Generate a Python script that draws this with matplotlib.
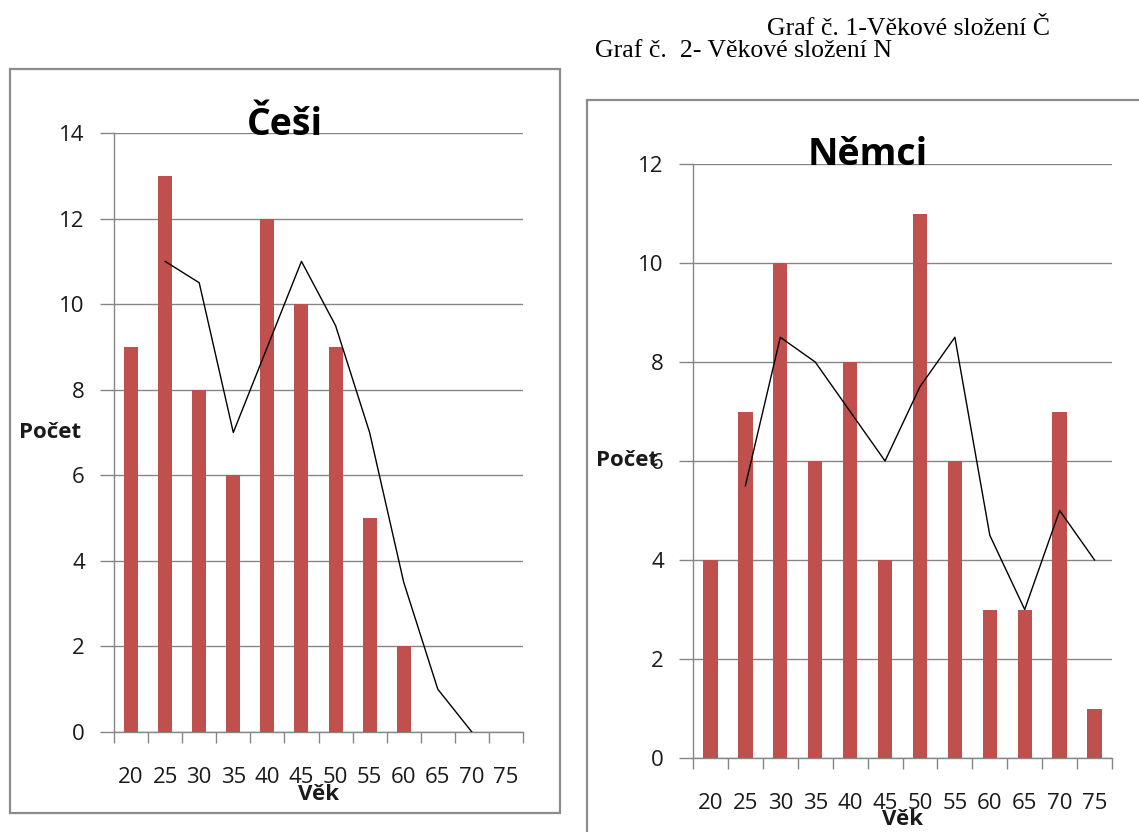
import numpy as np
import matplotlib
matplotlib.use('Agg')
import matplotlib.pyplot as plt
import matplotlib.patches as patches

plt.rcParams['font.family'] = ['Open Sans', 'DejaVu Sans']

W, H = 1139, 832

ages = ['20', '25', '30', '35', '40', '45', '50', '55', '60', '65', '70', '75']

# Češi
cz_counts = [9, 13, 8, 6, 12, 10, 9, 5, 2, 0, 0, 0]
cz_trend = [11, 10.5, 7, 9, 11, 9.5, 7, 3.5, 1, 0]   # from 25 to 70

# Němci
de_counts = [4, 7, 10, 6, 8, 4, 11, 6, 3, 3, 7, 1]
de_trend = [5.5, 8.5, 8, 7, 6, 7.5, 8.5, 4.5, 3, 5, 4]  # from 25 to 75

bar_color = '#C0504D'
grid_color = '#868686'
frame_color = '#8c8c8c'
text_color = '#1a1a1a'


def fx(x):
    return x / W


def fy(y):
    return 1 - y / H


def draw_chart(ax, counts, trend, ymax, title, title_xy):
    fig = ax.figure
    x = np.arange(len(ages))
    ax.bar(x, counts, width=0.41, color=bar_color, zorder=3)
    ax.plot(x[1:1 + len(trend)], trend, color='black', lw=1, zorder=4)

    ax.set_xlim(-0.5, len(ages) - 0.5)
    ax.set_ylim(0, ymax)
    ax.set_yticks(np.arange(0, ymax + 1, 2))

    # ticks between categories, labels under the bars
    ax.set_xticks(np.arange(len(ages) + 1) - 0.5)
    ax.set_xticklabels([])
    ax.set_xticks(x, minor=True)
    ax.set_xticklabels(ages, minor=True)
    ax.tick_params(axis='x', which='major', length=8, width=1, color=grid_color, direction='out')
    ax.tick_params(axis='x', which='minor', length=0, pad=25, labelsize=16, labelcolor=text_color)
    ax.tick_params(axis='y', length=10, width=1, color=grid_color, pad=11,
                   labelsize=16, labelcolor=text_color)

    ax.yaxis.grid(True, color=grid_color, lw=1, zorder=0)
    ax.set_axisbelow(True)
    for s in ['top', 'right']:
        ax.spines[s].set_visible(False)
    for s in ['left', 'bottom']:
        ax.spines[s].set_color(grid_color)
        ax.spines[s].set_linewidth(1)
    ax.set_facecolor('white')

    ax.set_ylabel('Počet', rotation=0, fontsize=16, fontweight='bold', va='center', ha='center',
                  color=text_color)
    ax.yaxis.set_label_coords(-0.157, 0.5)
    ax.set_xlabel('Věk', fontsize=16, fontweight='bold', va='center', color=text_color)
    ax.xaxis.set_label_coords(0.5, -0.104)

    fig.text(fx(title_xy[0]), fy(title_xy[1]), title, fontsize=27, fontweight='bold',
             ha='center', va='baseline', color='black')


fig = plt.figure(figsize=(W / 100, H / 100), dpi=100)
fig.patch.set_facecolor('white')

# chart frames
fig.add_artist(patches.Rectangle((fx(10), fy(813)), fx(550), 744 / H, transform=fig.transFigure,
                                 fill=False, ec=frame_color, lw=1.6))
fig.add_artist(patches.Rectangle((fx(587), fy(860)), fx(600), 760 / H, transform=fig.transFigure,
                                 fill=False, ec=frame_color, lw=1.6))

ax1 = fig.add_axes([fx(114), fy(732), fx(409), 599 / H])
draw_chart(ax1, cz_counts, cz_trend, 14, 'Češi', (285, 135))

ax2 = fig.add_axes([fx(693), fy(758), fx(419), 594 / H])
draw_chart(ax2, de_counts, de_trend, 12, 'Němci', (868, 165))

# document captions
fig.text(fx(767), fy(35), 'Graf č. 1-Věkové složení Č', family='Liberation Serif',
         fontsize=18.5, va='baseline', ha='left')
fig.text(fx(595), fy(57), 'Graf č.  2- Věkové složení N', family='Liberation Serif',
         fontsize=18.5, va='baseline', ha='left')

plt.savefig('out.png', dpi=100)
